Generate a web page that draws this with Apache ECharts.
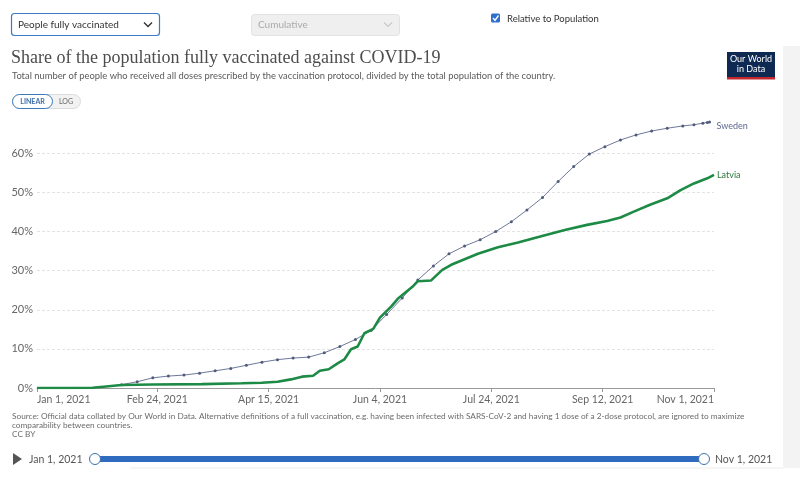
<!DOCTYPE html>
<html><head><meta charset="utf-8">
<script src="https://cdn.jsdelivr.net/npm/echarts@6/dist/echarts.min.js"></script>
<style>html,body{margin:0;padding:0;background:#fff}#c{width:800px;height:493px}</style>
</head><body><div id="c"></div>
<script>
// ---- data ----
const swedenDates = ['2021-01-01','2021-01-11','2021-01-18','2021-01-25','2021-02-01','2021-02-08','2021-02-15','2021-02-22','2021-03-01','2021-03-08','2021-03-15','2021-03-22','2021-03-29','2021-04-05','2021-04-12','2021-04-19','2021-04-26','2021-05-03','2021-05-10','2021-05-17','2021-05-24','2021-05-31','2021-06-07','2021-06-14','2021-06-21','2021-06-28','2021-07-05','2021-07-12','2021-07-19','2021-07-26','2021-08-02','2021-08-09','2021-08-16','2021-08-23','2021-08-30','2021-09-06','2021-09-13','2021-09-20','2021-09-27','2021-10-04','2021-10-11','2021-10-18','2021-10-23','2021-10-27','2021-10-29','2021-10-30'];
const swedenValues = [0,0,0.02,0.1,0.35,0.85,1.6,2.6,3.05,3.3,3.8,4.4,5.0,5.8,6.6,7.25,7.65,7.9,9.0,10.6,12.4,14.7,18.8,23.0,27.6,31.2,34.3,36.3,37.9,40.0,42.5,45.5,48.7,52.8,56.6,59.8,61.7,63.4,64.7,65.7,66.4,67.0,67.3,67.7,67.9,68.0];
const latviaDates = ['2021-01-01','2021-01-15','2021-01-26','2021-02-01','2021-02-08','2021-02-22','2021-03-16','2021-04-03','2021-04-12','2021-04-19','2021-04-25','2021-04-30','2021-05-05','2021-05-08','2021-05-12','2021-05-16','2021-05-19','2021-05-22','2021-05-25','2021-05-28','2021-06-01','2021-06-04','2021-06-09','2021-06-12','2021-06-15','2021-06-19','2021-06-21','2021-06-27','2021-06-29','2021-07-02','2021-07-06','2021-07-12','2021-07-18','2021-07-27','2021-08-05','2021-08-15','2021-08-26','2021-09-05','2021-09-14','2021-09-20','2021-09-26','2021-10-03','2021-10-11','2021-10-17','2021-10-23','2021-10-29','2021-11-01'];
const latviaValues = [0,0,0.05,0.4,0.77,0.9,1.0,1.2,1.35,1.6,2.2,2.9,3.15,4.4,4.8,6.3,7.3,9.9,10.6,14.0,15.1,18.0,20.8,22.8,24.2,26.1,27.3,27.5,28.6,30.2,31.5,32.9,34.3,36.0,37.2,38.7,40.4,41.7,42.7,43.6,45.1,46.8,48.5,50.6,52.3,53.6,54.5];
const xTickDates = ['2021-01-01','2021-02-24','2021-04-15','2021-06-04','2021-07-24','2021-09-12','2021-11-01'];
const yMax = 68;
const yStep = 10;

// ---- helpers ----
const MONTHS = ['Jan','Feb','Mar','Apr','May','Jun','Jul','Aug','Sep','Oct','Nov','Dec'];
function ts(s){ const p = s.split('-').map(Number); return Date.UTC(p[0], p[1]-1, p[2]); }
function fmt(v){ const d = new Date(v); return MONTHS[d.getUTCMonth()] + ' ' + d.getUTCDate() + ', ' + d.getUTCFullYear(); }
const sweden = swedenDates.map((d,i)=>[ts(d), swedenValues[i]]);
const latvia = latviaDates.map((d,i)=>[ts(d), latviaValues[i]]);
const xTicks = xTickDates.map(ts);

const chart = echarts.init(document.getElementById('c'), null, {renderer:'canvas'});
const UI = 'Lato, "Noto Sans", sans-serif';

const graphics = [
  {type:'rect', shape:{x:783,y:46,width:17,height:422}, style:{fill:'#f3f3f3'}, silent:true},
  {type:'line', shape:{x1:130,y1:468,x2:783,y2:468}, style:{stroke:'#ececec',lineWidth:1}, silent:true},
  {type:'rect', shape:{x:11.5,y:13.5,width:148,height:22,r:3}, style:{fill:'#fff',stroke:'#3d7bc4',lineWidth:1.2}},
  {type:'text', style:{text:'People fully vaccinated', x:18, y:25, font:'10px '+UI, fill:'#333', textVerticalAlign:'middle'}},
  {type:'polyline', shape:{points:[[144,22.5],[148,26.5],[152,22.5]]}, style:{stroke:'#333',lineWidth:1.4,fill:null}},
  {type:'rect', shape:{x:251.5,y:14.5,width:148,height:21,r:3}, style:{fill:'#efefef',stroke:'#e2e2e2',lineWidth:1}},
  {type:'text', style:{text:'Cumulative', x:258, y:25, font:'10px '+UI, fill:'#aaa', textVerticalAlign:'middle'}},
  {type:'polyline', shape:{points:[[384,22.5],[388,26.5],[392,22.5]]}, style:{stroke:'#c8c8c8',lineWidth:1.2,fill:null}},
  {type:'rect', shape:{x:491,y:13.5,width:9,height:9,r:1.5}, style:{fill:'#2f6fd0'}},
  {type:'polyline', shape:{points:[[493,18],[495,20.3],[498.5,15.5]]}, style:{stroke:'#fff',lineWidth:1.4,fill:null}},
  {type:'text', style:{text:'Relative to Population', x:507, y:19, font:'9.5px '+UI, fill:'#333', textVerticalAlign:'middle'}},
  {type:'text', style:{text:'Share of the population fully vaccinated against COVID-19', x:11, y:58, font:'18px "Liberation Serif", serif', fill:'#4d4d4d', textVerticalAlign:'middle'}},
  {type:'text', style:{text:'Total number of people who received all doses prescribed by the vaccination protocol, divided by the total population of the country.', x:12, y:76, font:'9.4px '+UI, fill:'#5b5b5b', textVerticalAlign:'middle'}},
  {type:'rect', shape:{x:727,y:52,width:48,height:27}, style:{fill:'#0f2a52'}},
  {type:'rect', shape:{x:727,y:77,width:48,height:2.5}, style:{fill:'#c0282d'}},
  {type:'text', style:{text:'Our World\nin Data', x:751, y:64.5, font:'9px '+UI, fill:'#fff', textAlign:'center', textVerticalAlign:'middle', lineHeight:10}},
  {type:'rect', shape:{x:12.5,y:94.5,width:68,height:14,r:7}, style:{fill:'#f2f2f2',stroke:'#dcdcdc',lineWidth:1}},
  {type:'rect', shape:{x:12.5,y:94.5,width:40,height:14,r:7}, style:{fill:'#fff',stroke:'#3a78b8',lineWidth:1}},
  {type:'text', style:{text:'LINEAR', x:32.5, y:101.5, font:'bold 7px '+UI, fill:'#3a6ea8', textAlign:'center', textVerticalAlign:'middle'}},
  {type:'text', style:{text:'LOG', x:66, y:101.5, font:'7px '+UI, fill:'#666', textAlign:'center', textVerticalAlign:'middle'}},
  {type:'text', style:{text:'Source: Official data collated by Our World in Data. Alternative definitions of a full vaccination, e.g. having been infected with SARS-CoV-2 and having 1 dose of a 2-dose protocol, are ignored to maximize\ncomparability between countries.\nCC BY', x:12, y:412, font:'8.25px '+UI, fill:'#6b6b6b', lineHeight:9}},
  {type:'polygon', shape:{points:[[13,453],[13,465],[22,459]]}, style:{fill:'#555'}},
  {type:'text', style:{text:'Jan 1, 2021', x:29, y:459.5, font:'10.5px '+UI, fill:'#555', textVerticalAlign:'middle'}},
  {type:'rect', shape:{x:95,y:456,width:609,height:6}, style:{fill:'#2f6cc0'}},
  {type:'circle', shape:{cx:95,cy:459,r:5.5}, style:{fill:'#fff',stroke:'#3d70b3',lineWidth:1}},
  {type:'circle', shape:{cx:704,cy:459,r:5.5}, style:{fill:'#fff',stroke:'#3d70b3',lineWidth:1}},
  {type:'text', style:{text:'Nov 1, 2021', x:715, y:459.5, font:'10.5px '+UI, fill:'#555', textVerticalAlign:'middle'}}
];

chart.setOption({
  animation:false,
  backgroundColor:'#fff',
  grid:{left:37, right:86, top:122, bottom:105, containLabel:false},
  xAxis:{
    type:'value', min:xTicks[0], max:xTicks[xTicks.length-1],
    axisLine:{show:true, lineStyle:{color:'#999', width:1}},
    axisTick:{show:true, length:4, lineStyle:{color:'#999'}, customValues:xTicks},
    axisLabel:{customValues:xTicks, formatter:(v)=>fmt(v), color:'#666', fontSize:10.5, fontFamily:UI, margin:6, alignMinLabel:'left', alignMaxLabel:'right', hideOverlap:false},
    splitLine:{show:false}
  },
  yAxis:{
    type:'value', min:0, max:yMax, interval:yStep,
    axisLine:{show:false}, axisTick:{show:false},
    axisLabel:{formatter:(v)=>v+'%', color:'#666', fontSize:11, fontFamily:UI, margin:4, showMaxLabel:false},
    splitLine:{show:true, showMinLine:false, showMaxLine:false, lineStyle:{color:'#e3e3e3', type:[3,2], width:1}}
  },
  series:[
    {name:'Sweden', type:'line', data:sweden, showSymbol:true, symbol:'circle',
     symbolSize:(v)=> (v[1] < 0.5 ? 0 : 3),
     lineStyle:{color:'#6f7898', width:1}, itemStyle:{color:'#505b7c'},
     endLabel:{show:true, formatter:'{a}', color:'#5d6890', fontSize:9, fontFamily:UI, distance:7, offset:[0,4]}, z:2},
    {name:'Latvia', type:'line', data:latvia, showSymbol:false, smooth:false,
     lineStyle:{color:'#1d8a45', width:2.6}, itemStyle:{color:'#1d8a45'},
     endLabel:{show:true, formatter:'{a}', color:'#2b7a3c', fontSize:9, fontFamily:UI, distance:3}, z:5}
  ],
  graphic:graphics
});
</script></body></html>
